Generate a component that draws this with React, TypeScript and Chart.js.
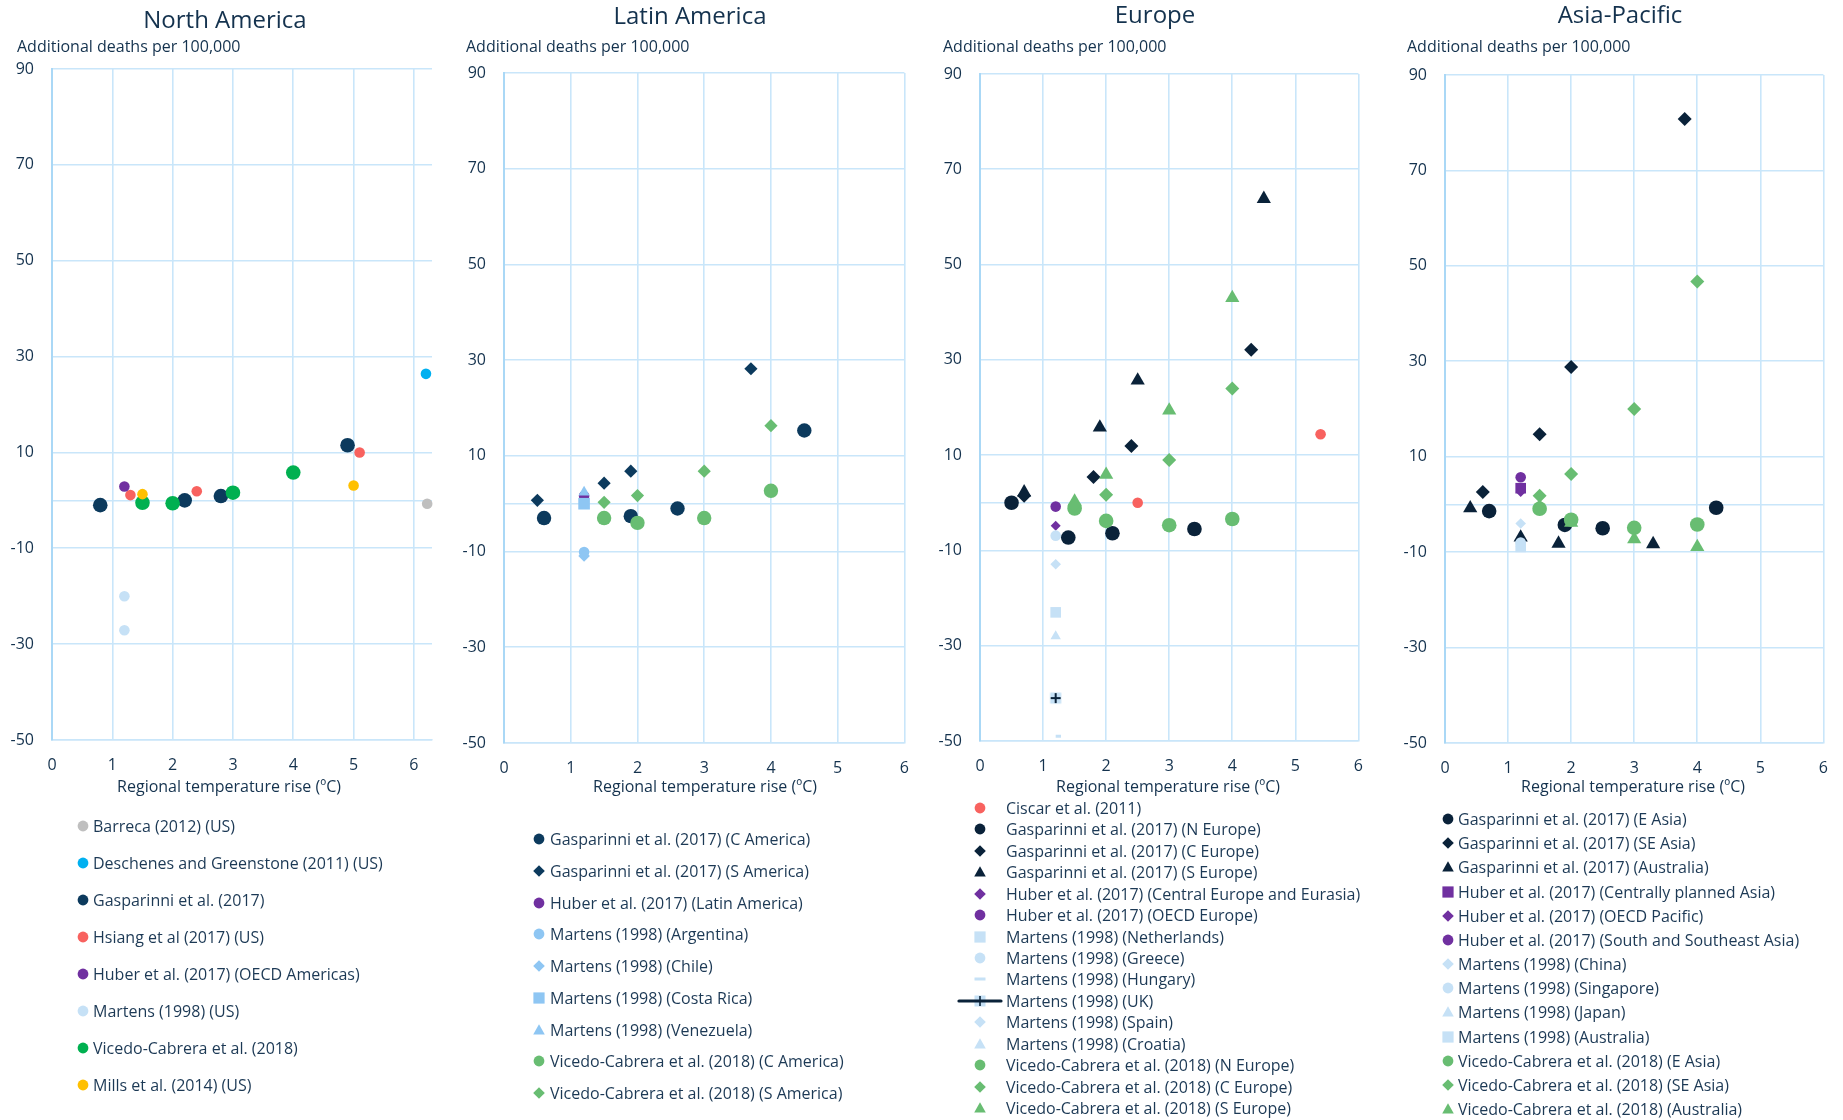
import React, { useEffect, useRef } from 'react';
import { Chart, registerables } from 'chart.js';

Chart.register(...registerables);

// ---------------- shared axis values ----------------
const Y_TICKS = [-50, -30, -10, 0, 10, 30, 50, 70, 90];
const X_TICKS = [0, 1, 2, 3, 4, 5, 6];
const Y_TITLE = 'Additional deaths per 100,000';
const X_TITLE = 'Regional temperature rise (ºC)';

// ---------------- North America ----------------
const naBarreca = [[6.22, -0.7]];
const naDeschenes = [[6.2, 26.4]];
const naGasparinni = [[0.8, -1], [2.2, 0], [2.8, 0.9], [4.9, 11.5]];
const naHsiang = [[1.3, 1.1], [2.4, 1.9], [5.1, 10]];
const naHuber = [[1.2, 2.9]];
const naMartens = [[1.2, -20], [1.2, -27.1]];
const naVicedo = [[1.5, -0.5], [2.0, -0.6], [3.0, 1.6], [4.0, 5.8]];
const naMills = [[1.5, 1.3], [5.0, 3.1]];

// ---------------- Latin America ----------------
const laGaspC = [[0.6, -3], [1.9, -2.6], [2.6, -1], [4.5, 15.3]];
const laGaspS = [[0.5, 0.7], [1.5, 4.3], [1.9, 6.8], [3.7, 28.2]];
const laHuber = [[1.2, 1.6]];
const laArgentina = [[1.2, -10.1]];
const laChile = [[1.2, -10.9]];
const laCostaRica = [[1.2, 0]];
const laVenezuela = [[1.2, 2.4]];
const laVicC = [[1.5, -3], [2, -4], [3, -3], [4, 2.7]];
const laVicS = [[1.5, 0.3], [2, 1.7], [3, 6.8], [4, 16.3]];

// ---------------- Europe ----------------
const euCiscar = [[2.5, 0], [5.4, 14.4]];
const euGaspN = [[0.5, 0], [1.4, -7.3], [2.1, -6.4], [3.4, -5.5]];
const euGaspC = [[0.7, 1.5], [1.8, 5.4], [2.4, 11.9], [4.3, 32.1]];
const euGaspS = [[0.7, 2.2], [1.9, 15.8], [2.5, 25.7], [4.5, 63.8]];
const euHuberCE = [[1.2, -4.8]];
const euHuberOECD = [[1.2, -0.8]];
const euNetherlands = [[1.2, -23]];
const euGreece = [[1.2, -6.9]];
const euHungary = [[1.2, -49]];
const euUK = [[1.2, -41]];
const euSpain = [[1.2, -12.9]];
const euCroatia = [[1.2, -28]];
const euVicN = [[1.5, -1.2], [2, -3.8], [3, -4.7], [4, -3.4]];
const euVicC = [[1.5, -0.5], [2, 1.7], [3, 9], [4, 24]];
const euVicS = [[1.5, 0.3], [2, 5.9], [3, 19.4], [4, 43]];

// ---------------- Asia-Pacific ----------------
const apGaspE = [[0.7, -1.4], [1.9, -4.3], [2.5, -5], [4.3, -0.7]];
const apGaspSE = [[0.6, 2.6], [1.5, 14.7], [2, 28.8], [3.8, 80.8]];
const apGaspAus = [[0.4, -0.8], [1.2, -6.9], [1.8, -8.2], [3.3, -8.3]];
const apHuberCPA = [[1.2, 3.4]];
const apHuberOECD = [[1.2, 2.6]];
const apHuberSSA = [[1.2, 5.7]];
const apChina = [[1.2, -4]];
const apSingapore = [[1.2, -8]];
const apJapan = [[1.2, -8.3]];
const apAustralia = [[1.2, -8.9]];
const apVicE = [[1.5, -0.9], [2, -3.2], [3, -4.9], [4, -4.2]];
const apVicSE = [[1.5, 1.8], [2, 6.4], [3, 20], [4, 46.7]];
const apVicAus = [[1.5, -0.4], [2, -3.8], [3, -7.3], [4, -8.9]];

// ---------------- styling ----------------
const FONT = '"Open Sans", "Noto Sans", sans-serif';
const TEXT = '#14324e';
const GRID = '#c9e6fa';
const AXIS = '#aad8f6';

const NAVY = '#0c3a5d';
const DARK = '#0a2239';
const RED = '#f8625f';
const PURPLE = '#7030a0';
const PALE = '#c6e1f6';
const SKY = '#8ec6f3';
const GREEN = '#00b050';
const MGREEN = '#68bd72';
const YELLOW = '#ffc000';
const GREY = '#bfbfbf';
const CYAN = '#00b0f0';

type Shape = 'circle' | 'diamond' | 'triangle' | 'square' | 'dash' | 'uk';
interface Series { label: string; pts: number[][]; shape: Shape; color: string; r: number; }

interface PanelCfg {
  title: string; titleX: number; titleY: number;
  subX: number;
  xTitleX: number;
  PL: number; PR: number; PT: number; PB: number; xMax: number; extraR: number;
  series: Series[];
  legX: number; legTextX: number; legY0: number; legStep: number;
}

const panels: PanelCfg[] = [
  {
    title: 'North America', titleX: 225, titleY: 19, subX: 17, xTitleX: 229,
    PL: 52, PR: 432, PT: 69, PB: 740, xMax: 6.3, extraR: 12,
    legX: 83, legTextX: 93, legY0: 826, legStep: 37,
    series: [
      { label: 'Barreca (2012) (US)', pts: naBarreca, shape: 'circle', color: GREY, r: 5.3 },
      { label: 'Deschenes and Greenstone (2011) (US)', pts: naDeschenes, shape: 'circle', color: CYAN, r: 5.3 },
      { label: 'Gasparinni et al. (2017)', pts: naGasparinni, shape: 'circle', color: NAVY, r: 7.3 },
      { label: 'Hsiang et al (2017) (US)', pts: naHsiang, shape: 'circle', color: RED, r: 5.3 },
      { label: 'Huber et al. (2017) (OECD Americas)', pts: naHuber, shape: 'circle', color: PURPLE, r: 5.3 },
      { label: 'Martens (1998) (US)', pts: naMartens, shape: 'circle', color: PALE, r: 5.3 },
      { label: 'Vicedo-Cabrera et al. (2018)', pts: naVicedo, shape: 'circle', color: GREEN, r: 7.3 },
      { label: 'Mills et al. (2014) (US)', pts: naMills, shape: 'circle', color: YELLOW, r: 5.3 },
    ],
  },
  {
    title: 'Latin America', titleX: 690, titleY: 15, subX: 466, xTitleX: 705,
    PL: 504, PR: 905, PT: 73, PB: 743, xMax: 6, extraR: 20,
    legX: 539, legTextX: 550, legY0: 839, legStep: 31.75,
    series: [
      { label: 'Gasparinni et al. (2017) (C America)', pts: laGaspC, shape: 'circle', color: NAVY, r: 7.2 },
      { label: 'Gasparinni et al. (2017) (S America)', pts: laGaspS, shape: 'diamond', color: NAVY, r: 6.6 },
      { label: 'Huber et al. (2017) (Latin America)', pts: laHuber, shape: 'circle', color: PURPLE, r: 5.3 },
      { label: 'Martens (1998) (Argentina)', pts: laArgentina, shape: 'circle', color: SKY, r: 5.3 },
      { label: 'Martens (1998) (Chile)', pts: laChile, shape: 'diamond', color: SKY, r: 5.8 },
      { label: 'Martens (1998) (Costa Rica)', pts: laCostaRica, shape: 'square', color: SKY, r: 8.2 },
      { label: 'Martens (1998) (Venezuela)', pts: laVenezuela, shape: 'triangle', color: SKY, r: 6.5 },
      { label: 'Vicedo-Cabrera et al. (2018) (C America)', pts: laVicC, shape: 'circle', color: MGREEN, r: 7.2 },
      { label: 'Vicedo-Cabrera et al. (2018) (S America)', pts: laVicS, shape: 'diamond', color: MGREEN, r: 6.6 },
    ],
  },
  {
    title: 'Europe', titleX: 1155, titleY: 14, subX: 943, xTitleX: 1168,
    PL: 980, PR: 1359, PT: 74, PB: 741, xMax: 6, extraR: 20,
    legX: 980, legTextX: 1006, legY0: 808, legStep: 21.43,
    series: [
      { label: 'Ciscar et al. (2011)', pts: euCiscar, shape: 'circle', color: RED, r: 5.3 },
      { label: 'Gasparinni et al. (2017) (N Europe)', pts: euGaspN, shape: 'circle', color: DARK, r: 7.3 },
      { label: 'Gasparinni et al. (2017) (C Europe)', pts: euGaspC, shape: 'diamond', color: DARK, r: 7 },
      { label: 'Gasparinni et al. (2017) (S Europe)', pts: euGaspS, shape: 'triangle', color: DARK, r: 8.2 },
      { label: 'Huber et al. (2017) (Central Europe and Eurasia)', pts: euHuberCE, shape: 'diamond', color: PURPLE, r: 5 },
      { label: 'Huber et al. (2017) (OECD Europe)', pts: euHuberOECD, shape: 'circle', color: PURPLE, r: 5.3 },
      { label: 'Martens (1998) (Netherlands)', pts: euNetherlands, shape: 'square', color: PALE, r: 7.5 },
      { label: 'Martens (1998) (Greece)', pts: euGreece, shape: 'circle', color: PALE, r: 5.3 },
      { label: 'Martens (1998) (Hungary)', pts: euHungary, shape: 'dash', color: PALE, r: 5.3 },
      { label: 'Martens (1998) (UK)', pts: euUK, shape: 'uk', color: PALE, r: 6 },
      { label: 'Martens (1998) (Spain)', pts: euSpain, shape: 'diamond', color: PALE, r: 5.3 },
      { label: 'Martens (1998) (Croatia)', pts: euCroatia, shape: 'triangle', color: PALE, r: 6 },
      { label: 'Vicedo-Cabrera et al. (2018) (N Europe)', pts: euVicN, shape: 'circle', color: MGREEN, r: 7.3 },
      { label: 'Vicedo-Cabrera et al. (2018) (C Europe)', pts: euVicC, shape: 'diamond', color: MGREEN, r: 7 },
      { label: 'Vicedo-Cabrera et al. (2018) (S Europe)', pts: euVicS, shape: 'triangle', color: MGREEN, r: 8.2 },
    ],
  },
  {
    title: 'Asia-Pacific', titleX: 1620, titleY: 14, subX: 1407, xTitleX: 1633,
    PL: 1445, PR: 1824, PT: 75, PB: 743, xMax: 6, extraR: 20,
    legX: 1448, legTextX: 1458, legY0: 819, legStep: 24.17,
    series: [
      { label: 'Gasparinni et al. (2017) (E Asia)', pts: apGaspE, shape: 'circle', color: DARK, r: 7.3 },
      { label: 'Gasparinni et al. (2017) (SE Asia)', pts: apGaspSE, shape: 'diamond', color: DARK, r: 7 },
      { label: 'Gasparinni et al. (2017) (Australia)', pts: apGaspAus, shape: 'triangle', color: DARK, r: 8.2 },
      { label: 'Huber et al. (2017) (Centrally planned Asia)', pts: apHuberCPA, shape: 'square', color: PURPLE, r: 7.5 },
      { label: 'Huber et al. (2017) (OECD Pacific)', pts: apHuberOECD, shape: 'diamond', color: PURPLE, r: 5 },
      { label: 'Huber et al. (2017) (South and Southeast Asia)', pts: apHuberSSA, shape: 'circle', color: PURPLE, r: 5.3 },
      { label: 'Martens (1998) (China)', pts: apChina, shape: 'diamond', color: PALE, r: 5.3 },
      { label: 'Martens (1998) (Singapore)', pts: apSingapore, shape: 'circle', color: PALE, r: 5.3 },
      { label: 'Martens (1998) (Japan)', pts: apJapan, shape: 'triangle', color: PALE, r: 6 },
      { label: 'Martens (1998) (Australia)', pts: apAustralia, shape: 'square', color: PALE, r: 7.5 },
      { label: 'Vicedo-Cabrera et al. (2018) (E Asia)', pts: apVicE, shape: 'circle', color: MGREEN, r: 7.3 },
      { label: 'Vicedo-Cabrera et al. (2018) (SE Asia)', pts: apVicSE, shape: 'diamond', color: MGREEN, r: 7 },
      { label: 'Vicedo-Cabrera et al. (2018) (Australia)', pts: apVicAus, shape: 'triangle', color: MGREEN, r: 8.2 },
    ],
  },
];

function ukMarker(): HTMLCanvasElement {
  const c = document.createElement('canvas');
  c.width = 14; c.height = 14;
  const ctx = c.getContext('2d')!;
  ctx.fillStyle = PALE;
  ctx.fillRect(1.5, 1.5, 11, 11);
  ctx.strokeStyle = DARK;
  ctx.lineWidth = 2;
  ctx.beginPath();
  ctx.moveTo(2, 7); ctx.lineTo(12, 7);
  ctx.moveTo(7, 2); ctx.lineTo(7, 12);
  ctx.stroke();
  return c;
}

function toDataset(s: Series, i: number) {
  const base: any = {
    label: s.label,
    data: s.pts.map(([x, y]) => ({ x, y })),
    backgroundColor: s.color,
    borderColor: s.color,
    borderWidth: 0,
    pointRadius: s.r,
    pointHoverRadius: s.r,
    showLine: false,
    order: -i,
    clip: false,
  };
  if (s.shape === 'circle') base.pointStyle = 'circle';
  else if (s.shape === 'diamond') base.pointStyle = 'rectRot';
  else if (s.shape === 'triangle') base.pointStyle = 'triangle';
  else if (s.shape === 'square') base.pointStyle = 'rect';
  else if (s.shape === 'dash') { base.pointStyle = 'dash'; base.borderWidth = 3; }
  else if (s.shape === 'uk') base.pointStyle = ukMarker();
  return base;
}

function LegendMarker({ shape, color }: { shape: Shape; color: string }) {
  const w = 46, h = 14, cx = w / 2, cy = h / 2;
  let el: React.ReactNode = null;
  if (shape === 'circle') el = <circle cx={cx} cy={cy} r={5.4} fill={color} />;
  else if (shape === 'diamond') el = <polygon points={`${cx},${cy - 5.8} ${cx + 5.8},${cy} ${cx},${cy + 5.8} ${cx - 5.8},${cy}`} fill={color} />;
  else if (shape === 'triangle') el = <polygon points={`${cx},${cy - 5.8} ${cx + 5.8},${cy + 4.6} ${cx - 5.8},${cy + 4.6}`} fill={color} />;
  else if (shape === 'square') el = <rect x={cx - 5.6} y={cy - 5.6} width={11.2} height={11.2} fill={color} />;
  else if (shape === 'dash') el = <rect x={cx - 5.5} y={cy - 1.5} width={11} height={3} fill={color} />;
  else if (shape === 'uk') el = (
    <g>
      <rect x={cx - 5.5} y={cy - 5.5} width={11} height={11} fill={PALE} />
      <line x1={cx - 21} y1={cy} x2={cx + 21} y2={cy} stroke={DARK} strokeWidth={3.2} strokeLinecap="round" />
      <line x1={cx} y1={cy - 5} x2={cx} y2={cy + 5} stroke={DARK} strokeWidth={1.6} />
      <line x1={cx - 5} y1={cy} x2={cx + 5} y2={cy} stroke={DARK} strokeWidth={1.6} />
    </g>
  );
  return <svg width={w} height={h} style={{ display: 'block' }}>{el}</svg>;
}

const Y_AXIS_W = 45;
const X_AXIS_H = 40;
const PAD_R = 12;

function Panel({ cfg }: { cfg: PanelCfg }) {
  const ref = useRef<HTMLCanvasElement>(null);
  const cLeft = cfg.PL - Y_AXIS_W;
  const cWidth = cfg.PR + cfg.extraR - cLeft;
  const cHeight = cfg.PB + X_AXIS_H;

  useEffect(() => {
    const tickFont = { family: FONT, size: 16 };
    const chart = new Chart(ref.current!, {
      type: 'scatter',
      data: { datasets: cfg.series.map(toDataset) },
      options: {
        responsive: false,
        animation: false,
        devicePixelRatio: 1,
        layout: { padding: { top: cfg.PT, right: PAD_R, left: 0, bottom: 0 }, autoPadding: false },
        plugins: { legend: { display: false }, tooltip: { enabled: false }, title: { display: false } },
        scales: {
          x: {
            type: 'linear', min: 0, max: cfg.xMax,
            afterBuildTicks: (s: any) => { s.ticks = X_TICKS.map((v) => ({ value: v })); },
            afterFit: (s: any) => { s.height = X_AXIS_H; },
            grid: { color: GRID, lineWidth: 1.6, drawTicks: false },
            border: { display: true, color: GRID, width: 1.6 },
            ticks: { padding: 16, color: TEXT, font: tickFont, callback: (v: any) => String(v) },
          },
          y: {
            type: 'linear', min: -50, max: 90,
            afterBuildTicks: (s: any) => { s.ticks = Y_TICKS.map((v) => ({ value: v })); },
            afterFit: (s: any) => { s.width = Y_AXIS_W; },
            grid: { color: GRID, lineWidth: 1.6, drawTicks: false },
            border: { display: true, color: AXIS, width: 2 },
            ticks: { padding: 18, color: TEXT, font: tickFont, callback: (v: any) => (v === 0 ? '' : String(v)) },
          },
        },
      } as any,
    });
    return () => chart.destroy();
  }, []);

  const abs: React.CSSProperties = { position: 'absolute', whiteSpace: 'nowrap', fontFamily: FONT, color: TEXT };

  return (
    <>
      <canvas ref={ref} width={cWidth} height={cHeight}
        style={{ position: 'absolute', left: cLeft, top: 0, width: cWidth, height: cHeight }} />
      <div style={{ ...abs, left: cfg.titleX, top: cfg.titleY, transform: 'translate(-50%, -50%)', fontSize: 24, lineHeight: '30px' }}>{cfg.title}</div>
      <div style={{ ...abs, left: cfg.subX, top: 46, transform: 'translateY(-50%)', fontSize: 16, lineHeight: '20px' }}>{Y_TITLE}</div>
      <div style={{ ...abs, left: cfg.xTitleX, top: 786, transform: 'translate(-50%, -50%)', fontSize: 16, lineHeight: '20px' }}>{X_TITLE}</div>
      {cfg.series.map((s, i) => {
        const y = cfg.legY0 + i * cfg.legStep;
        return (
          <React.Fragment key={s.label}>
            <div style={{ position: 'absolute', left: cfg.legX - 23, top: y - 7 }}>
              <LegendMarker shape={s.shape} color={s.color} />
            </div>
            <div style={{ ...abs, left: cfg.legTextX, top: y - 10, fontSize: 16, lineHeight: '20px', color: '#1c3955' }}>{s.label}</div>
          </React.Fragment>
        );
      })}
    </>
  );
}

export default function App() {
  return (
    <div style={{ position: 'absolute', left: 0, top: 0, width: 1843, height: 1120, background: '#ffffff', overflow: 'hidden' }}>
      {panels.map((p) => <Panel key={p.title} cfg={p} />)}
    </div>
  );
}
